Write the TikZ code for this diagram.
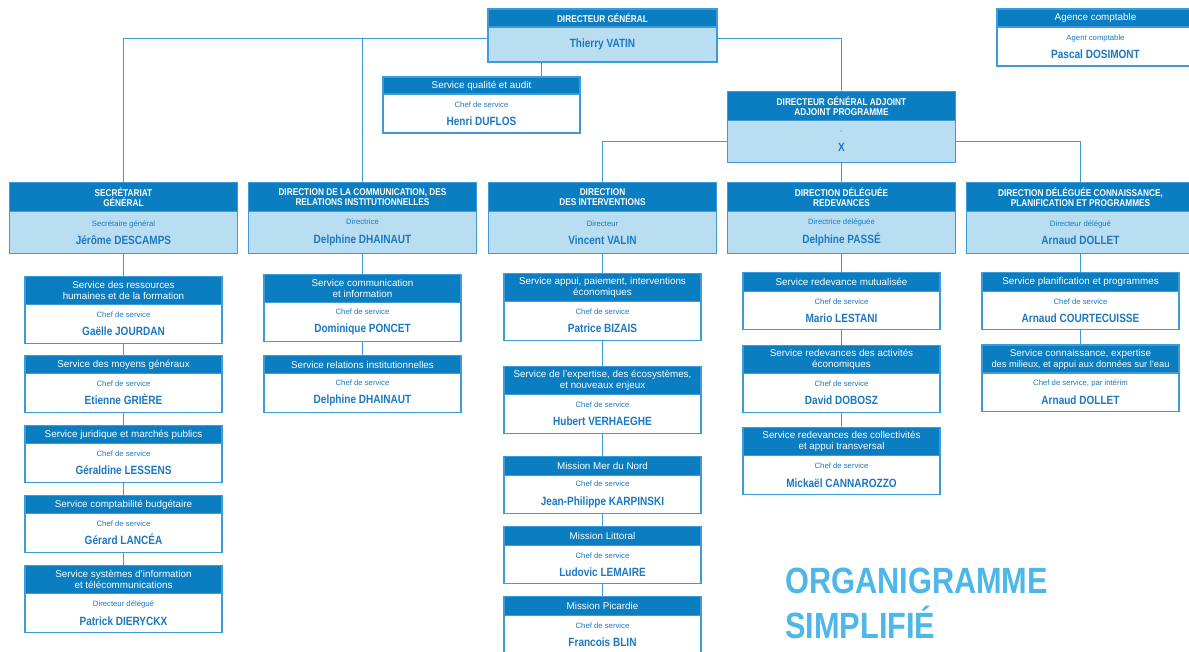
\documentclass[tikz,border=0pt]{standalone}
\usepackage{fontspec}
\setmainfont{Liberation Sans}
\newfontfamily\condfont{Liberation Sans}[FakeStretch=0.84]
\definecolor{HeadBlue}{HTML}{0B7DC1}
\definecolor{BodyBlue}{HTML}{B9DEF2}
\definecolor{EdgeBlue}{HTML}{3C9BD8}
\definecolor{NameBlue}{HTML}{1C78C0}
\definecolor{TitleBlue}{HTML}{4CB7E8}
\newcommand{\roletext}[1]{{\fontsize{5.5}{13}\selectfont #1}}
\newcommand{\persontext}[1]{{\condfont\bfseries\fontsize{8.5}{13}\selectfont #1}}
\usetikzlibrary{positioning}

\begin{document}
\begin{tikzpicture}[
  x=0.025cm, y=-0.025cm,
  box/.style={
    rectangle, draw=EdgeBlue, line width=0.8pt,
    inner sep=1pt, outer sep=0pt, align=center
  },
  head/.style={
    box, fill=HeadBlue, text=white,
    font=\fontsize{7}{7.8}\selectfont
  },
  capshead/.style={
    head, font=\condfont\bfseries\fontsize{7}{7.2}\selectfont
  },
  lbody/.style={
    box, fill=BodyBlue, text=NameBlue,
    font=\fontsize{5.5}{13}\selectfont
  },
  wbody/.style={lbody, fill=white},
  dirw/.style={minimum width=5.7cm},
  svcw/.style={minimum width=4.925cm},
  one/.style={minimum height=0.46cm},
  two/.style={minimum height=0.72cm},
  dirbody/.style={dirw, minimum height=1.05cm},
  svcbody/.style={wbody, svcw, minimum height=0.96cm},
  link/.style={draw=EdgeBlue, line width=0.8pt},
  bigtitle/.style={
    anchor=base west, inner sep=0pt, align=left,
    text=TitleBlue,
    font=\condfont\bfseries\fontsize{26}{32}\selectfont
  }
]
  \useasboundingbox (0,0) rectangle (1189,651);

  % Direction generale
  \node[capshead, minimum width=5.725cm, minimum height=0.45cm]
    (dg) at (602.5,18) {DIRECTEUR GÉNÉRAL};
  \node[lbody, minimum width=5.725cm, minimum height=0.875cm,
    below=0pt of dg] (dgb) {\persontext{Thierry VATIN}};

  % Agence comptable (top right)
  \node[head, svcw, minimum height=0.45cm]
    (agc) at (1095.5,18) {Agence comptable};
  \node[wbody, svcw, minimum height=0.975cm, below=0pt of agc]
    (agcb) {\roletext{Agent comptable}\\\persontext{Pascal DOSIMONT}};

  % Service qualite
  \node[head, svcw, minimum height=0.425cm]
    (sq) at (481.5,85.5) {Service qualité et audit};
  \node[wbody, svcw, minimum height=0.975cm, below=0pt of sq]
    (sqb) {\roletext{Chef de service}\\\persontext{Henri DUFLOS}};

  % Directeur general adjoint
  \node[capshead, dirw, two] (dga) at (841.5,106)
    {DIRECTEUR GÉNÉRAL ADJOINT\\ADJOINT PROGRAMME};
  \node[lbody, dirbody, below=0pt of dga]
    (dgab) {\roletext{-}\\\persontext{X}};

  % Directions (left to right)
  \node[capshead, dirw, two] (sg) at (123.5,197)
    {SECRÉTARIAT\\GÉNÉRAL};
  \node[lbody, dirbody, below=0pt of sg] (sgb)
    {\roletext{Secrétaire général}\\\persontext{Jérôme DESCAMPS}};
  \node[capshead, dirw, two] (dc) at (362.5,197)
    {DIRECTION DE LA COMMUNICATION, DES\\RELATIONS INSTITUTIONNELLES};
  \node[lbody, dirbody, below=0pt of dc] (dcb)
    {\roletext{Directrice}\\\persontext{Delphine DHAINAUT}};
  \node[capshead, dirw, two] (di) at (602.5,197)
    {DIRECTION\\DES INTERVENTIONS};
  \node[lbody, dirbody, below=0pt of di] (dib)
    {\roletext{Directeur}\\\persontext{Vincent VALIN}};
  \node[capshead, dirw, two] (ddr) at (841.5,197)
    {DIRECTION DÉLÉGUÉE\\REDEVANCES};
  \node[lbody, dirbody, below=0pt of ddr] (ddrb)
    {\roletext{Directrice déléguée}\\\persontext{Delphine PASSÉ}};
  \node[capshead, dirw, two] (ddc) at (1080.5,197)
    {DIRECTION DÉLÉGUÉE CONNAISSANCE,\\PLANIFICATION ET PROGRAMMES};
  \node[lbody, dirbody, below=0pt of ddc] (ddcb)
    {\roletext{Directeur délégué}\\\persontext{Arnaud DOLLET}};

  % Secretariat general services
  \node[head, svcw, two] (rh) at (123.5,290.5)
    {Service des ressources\\humaines et de la formation};
  \node[svcbody, below=0pt of rh] (rhb)
    {\roletext{Chef de service}\\\persontext{Gaëlle JOURDAN}};
  \node[head, svcw, one] (mg) at (123.5,364.5)
    {Service des moyens généraux};
  \node[svcbody, below=0pt of mg] (mgb)
    {\roletext{Chef de service}\\\persontext{Etienne GRIÈRE}};
  \node[head, svcw, one] (jur) at (123.5,434.5)
    {Service juridique et marchés publics};
  \node[svcbody, below=0pt of jur] (jurb)
    {\roletext{Chef de service}\\\persontext{Géraldine LESSENS}};
  \node[head, svcw, one] (cpt) at (123.5,504.5)
    {Service comptabilité budgétaire};
  \node[svcbody, below=0pt of cpt] (cptb)
    {\roletext{Chef de service}\\\persontext{Gérard LANCÉA}};
  \node[head, svcw, two] (si) at (123.5,579.5)
    {Service systèmes d'information\\et télécommunications};
  \node[svcbody, below=0pt of si] (sib)
    {\roletext{Directeur délégué}\\\persontext{Patrick DIERYCKX}};

  % Communication services
  \node[head, svcw, two] (com) at (362.5,288.5)
    {Service communication\\et information};
  \node[svcbody, below=0pt of com] (comb)
    {\roletext{Chef de service}\\\persontext{Dominique PONCET}};
  \node[head, svcw, one] (ri) at (362.5,364.5)
    {Service relations institutionnelles};
  \node[svcbody, below=0pt of ri] (rib)
    {\roletext{Chef de service}\\\persontext{Delphine DHAINAUT}};

  % Interventions services and missions
  \node[head, svcw, two] (app) at (602.5,287.5)
    {Service appui, paiement, interventions\\économiques};
  \node[svcbody, below=0pt of app] (appb)
    {\roletext{Chef de service}\\\persontext{Patrice BIZAIS}};
  \node[head, svcw, two] (exp) at (602.5,380.5)
    {Service de l'expertise, des écosystèmes,\\et nouveaux enjeux};
  \node[svcbody, below=0pt of exp] (expb)
    {\roletext{Chef de service}\\\persontext{Hubert VERHAEGHE}};
  \node[head, svcw, one] (mer) at (602.5,466)
    {Mission Mer du Nord};
  \node[svcbody, below=0pt of mer] (merb)
    {\roletext{Chef de service}\\\persontext{Jean-Philippe KARPINSKI}};
  \node[head, svcw, one] (lit) at (602.5,536)
    {Mission Littoral};
  \node[svcbody, below=0pt of lit] (litb)
    {\roletext{Chef de service}\\\persontext{Ludovic LEMAIRE}};
  \node[head, svcw, one] (pic) at (602.5,606)
    {Mission Picardie};
  \node[svcbody, below=0pt of pic] (picb)
    {\roletext{Chef de service}\\\persontext{Francois BLIN}};

  % Redevances services
  \node[head, svcw, one] (mut) at (841.5,282)
    {Service redevance mutualisée};
  \node[svcbody, below=0pt of mut] (mutb)
    {\roletext{Chef de service}\\\persontext{Mario LESTANI}};
  \node[head, svcw, two] (act) at (841.5,359.5)
    {Service redevances des activités\\économiques};
  \node[svcbody, below=0pt of act] (actb)
    {\roletext{Chef de service}\\\persontext{David DOBOSZ}};
  \node[head, svcw, two] (col) at (841.5,441.5)
    {Service redevances des collectivités\\et appui transversal};
  \node[svcbody, below=0pt of col] (colb)
    {\roletext{Chef de service}\\\persontext{Mickaël CANNAROZZO}};

  % Connaissance services
  \node[head, svcw, one] (pla) at (1080.5,282)
    {Service planification et programmes};
  \node[svcbody, below=0pt of pla] (plab)
    {\roletext{Chef de service}\\\persontext{Arnaud COURTECUISSE}};
  \node[head, svcw, minimum height=0.7cm] (con) at (1080.5,359)
    {Service connaissance, expertise\\{\fontsize{6.6}{7.8}\selectfont des milieux, et appui aux données sur l'eau}};
  \node[svcbody, below=0pt of con] (conb)
    {\roletext{Chef de service, par intérim}\\\persontext{Arnaud DOLLET}};

  % Links from the top
  \draw[link] ([yshift=0.14cm]dgb.west) -| (sg.north);
  \draw[link] ([yshift=0.14cm]dgb.west) -| (dc.north);
  \draw[link] ([yshift=0.14cm]dgb.east) -| (dga.north);
  \draw[link] ([xshift=1.49cm]sq.north)
    -- ([xshift=1.49cm]sq.north |- dgb.south);
  \draw[link] (dgab.west) -| (di.north);
  \draw[link] (dgab.south) -- (ddr.north);
  \draw[link] (dgab.east) -| (ddc.north);

  % Links down each column
  \draw[link] (sgb.south) -- (rh.north) (rhb.south) -- (mg.north)
    (mgb.south) -- (jur.north) (jurb.south) -- (cpt.north)
    (cptb.south) -- (si.north);
  \draw[link] (dcb.south) -- (com.north) (comb.south) -- (ri.north);
  \draw[link] (dib.south) -- (app.north) (appb.south) -- (exp.north)
    (expb.south) -- (mer.north) (merb.south) -- (lit.north)
    (litb.south) -- (pic.north);
  \draw[link] (ddrb.south) -- (mut.north) (mutb.south) -- (act.north)
    (actb.south) -- (col.north);
  \draw[link] (ddcb.south) -- (pla.north) (plab.south) -- (con.north);

  % Title (base is the last line)
  \node[bigtitle] (ttl) at (785,638) {ORGANIGRAMME\\SIMPLIFIÉ};
\end{tikzpicture}
\end{document}
